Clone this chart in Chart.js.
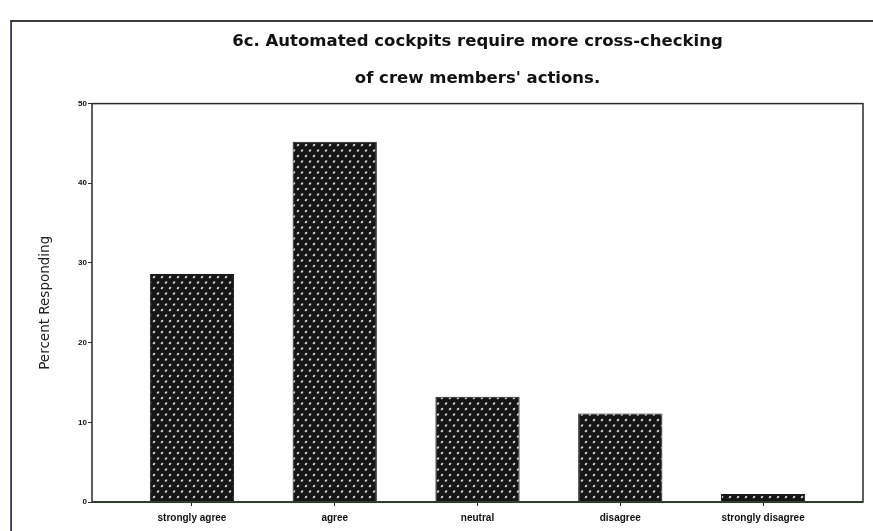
<!DOCTYPE html>
<html>
<head>
<meta charset="utf-8">
<script src="https://cdn.jsdelivr.net/npm/chart.js@4.4.1/dist/chart.umd.min.js"></script>
<style>
    html, body { margin: 0; padding: 0; background: #fff; }
    #wrap { width: 873px; height: 531px; }
</style>
</head>
<body>
<div id="wrap"><canvas id="responseChart" width="873" height="531"></canvas></div>
<script>
// Data
const categories = ['strongly agree', 'agree', 'neutral', 'disagree', 'strongly disagree'];
const percentResponding = [28.6, 45.2, 13.2, 11.1, 1.0];
const yTicks = [0, 10, 20, 30, 40, 50];
const titleLines = ['6c. Automated cockpits require more cross-checking', 'of crew members\' actions.'];

document.addEventListener('DOMContentLoaded', () => {
    // Dotted dark fill like the scanned hatch
    function makeDotPattern() {
        const c = document.createElement('canvas');
        c.width = 8;
        c.height = 11;
        const p = c.getContext('2d');
        p.fillStyle = '#161616';
        p.fillRect(0, 0, 8, 11);
        p.fillStyle = '#d6d6d6';
        [[2, 2], [6, 7.5]].forEach(([x, y]) => {
            p.beginPath();
            p.ellipse(x, y, 1.5, 1.0, -0.8, 0, Math.PI * 2);
            p.fill();
        });
        return p.createPattern(c, 'repeat');
    }

    // Page frame and plot box
    const framePlugin = {
        id: 'frame',
        beforeDraw(chart) {
            const ctx = chart.ctx;
            ctx.save();
            ctx.strokeStyle = '#3a3a3a';
            ctx.lineWidth = 2;
            ctx.beginPath();
            ctx.moveTo(11, 531);
            ctx.lineTo(11, 21);
            ctx.lineTo(873, 21);
            ctx.stroke();
            ctx.strokeStyle = '#5a5a9a';
            ctx.lineWidth = 1;
            ctx.beginPath();
            ctx.moveTo(10.5, 531);
            ctx.lineTo(10.5, 22);
            ctx.stroke();
            ctx.restore();
        },
        afterDatasetsDraw(chart) {
            const { ctx, chartArea: a } = chart;
            ctx.save();
            ctx.strokeStyle = '#2a2a2a';
            ctx.lineWidth = 1.5;
            ctx.strokeRect(a.left, a.top, a.right - a.left, a.bottom - a.top);
            ctx.strokeStyle = '#2f3f2f';
            ctx.lineWidth = 2;
            ctx.beginPath();
            ctx.moveTo(a.left, a.bottom);
            ctx.lineTo(a.right, a.bottom);
            ctx.stroke();
            ctx.restore();
        }
    };

    const ctx = document.getElementById('responseChart').getContext('2d');
    new Chart(ctx, {
        type: 'bar',
        data: {
            datasets: [{
                label: 'Percent Responding',
                data: percentResponding.map((v, i) => ({ x: i, y: v })),
                backgroundColor: makeDotPattern(),
                borderColor: '#1b1b1b',
                borderWidth: 1,
                barPercentage: 0.59,
                categoryPercentage: 1
            }]
        },
        plugins: [framePlugin],
        options: {
            responsive: false,
            animation: false,
            layout: { padding: { left: 0, right: 10, top: 0, bottom: 0 } },
            plugins: {
                legend: { display: false },
                tooltip: { enabled: false },
                title: {
                    display: true,
                    fullSize: false,
                    text: titleLines,
                    color: '#111',
                    font: { family: 'DejaVu Sans, Verdana, sans-serif', size: 16.5, weight: 'bold', lineHeight: 2.2 },
                    padding: { top: 24, bottom: 7 }
                }
            },
            scales: {
                x: {
                    type: 'linear',
                    offset: false,
                    min: -0.7,
                    max: 4.7,
                    afterBuildTicks: axis => {
                        axis.ticks = categories.map((_, i) => ({ value: i }));
                    },
                    afterFit: axis => { axis.height = 29; },
                    grid: { drawOnChartArea: false, drawTicks: true, tickLength: 4, color: '#2a2a2a', offset: false },
                    border: { display: false },
                    ticks: {
                        autoSkip: false,
                        maxRotation: 0,
                        padding: 6,
                        color: '#111',
                        font: { family: 'Liberation Sans, Arial, sans-serif', size: 10, weight: 'bold' },
                        callback: v => categories[v] ?? ''
                    }
                },
                y: {
                    min: 0,
                    max: 50,
                    afterBuildTicks: axis => {
                        axis.ticks = yTicks.map(v => ({ value: v }));
                    },
                    afterFit: axis => { axis.width = 92; },
                    grid: { drawOnChartArea: false, drawTicks: true, tickLength: 4, color: '#2a2a2a' },
                    border: { display: false },
                    ticks: {
                        padding: 1,
                        color: '#111',
                        font: { family: 'Liberation Sans, Arial, sans-serif', size: 8, weight: 'bold' }
                    },
                    title: {
                        display: true,
                        text: 'Percent Responding',
                        color: '#222',
                        font: { family: 'DejaVu Sans, Verdana, sans-serif', size: 13.5 },
                        padding: { top: 37, bottom: 0 }
                    }
                }
            }
        }
    });
});
</script>
</body>
</html>
